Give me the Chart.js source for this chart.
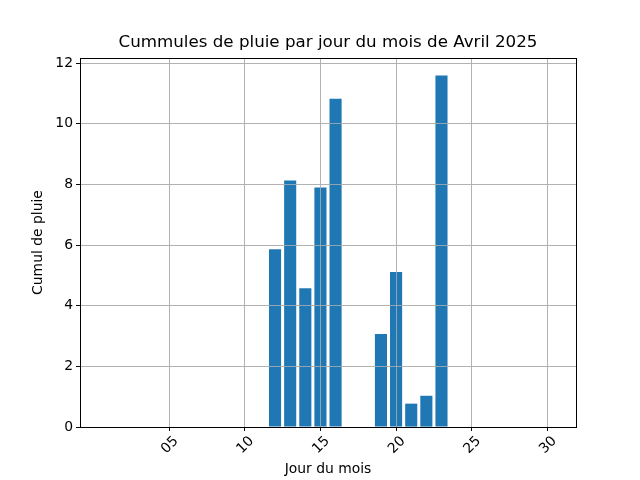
<!DOCTYPE html>
<html>
<head>
<meta charset="utf-8">
<script src="https://cdn.jsdelivr.net/npm/chart.js@4"></script>
<style>
  body { margin: 0; background: white; }
  #pluie { display: block; }
</style>
</head>
<body>
<canvas id="pluie" width="640" height="480"></canvas>
<script>
const jours = [1, 2, 3, 4, 5, 6, 7, 8, 9, 10, 11, 12, 13, 14, 15,
               16, 17, 18, 19, 20, 21, 22, 23, 24, 25, 26, 27, 28, 29, 30]
const cumuls = [0, 0, 0, 0, 0, 0, 0, 0, 0, 0, 0, 5.86, 8.13, 4.58, 7.90,
                10.83, 0, 0, 3.07, 5.11, 0.77, 1.03, 11.59, 0, 0, 0, 0, 0, 0, 0]
const xTicks = [5, 10, 15, 20, 25, 30]
const xLabels = ['05', '10', '15', '20', '25', '30']
const titre = 'Cummules de pluie par jour du mois de Avril 2025'

const police = "'DejaVu Sans', sans-serif"

// grille par-dessus les barres, cadre noir et titre centré sur les axes
const cadre = {
    id: 'cadre',
    afterDatasetsDraw(chart) {
        chart.scales.x.drawGrid(chart.chartArea)
        chart.scales.y.drawGrid(chart.chartArea)
    },
    afterDraw(chart) {
        const a = chart.chartArea
        const ctx = chart.ctx
        ctx.save()
        ctx.strokeStyle = 'black'
        ctx.lineWidth = 1
        ctx.strokeRect(Math.round(a.left) + 0.5, Math.round(a.top) + 0.5,
                       Math.round(a.right - a.left), Math.round(a.bottom - a.top))
        ctx.fillStyle = 'black'
        ctx.font = '16.7px ' + police
        ctx.textAlign = 'center'
        ctx.textBaseline = 'middle'
        ctx.fillText(titre, (a.left + a.right) / 2, 43)
        ctx.restore()
    }
}

const points = jours.map((j, i) => ({ x: j, y: cumuls[i] }))

new Chart(document.getElementById('pluie'), {
    type: 'bar',
    data: {
        datasets: [{
            data: points,
            backgroundColor: '#1f77b4',
            borderWidth: 0,
            categoryPercentage: 0.8,
            barPercentage: 1
        }]
    },
    options: {
        responsive: false,
        animation: false,
        devicePixelRatio: 1,
        layout: { padding: { left: 0, right: 64, top: 58, bottom: 0 } },
        plugins: {
            legend: { display: false },
            tooltip: { enabled: false },
            title: { display: false }
        },
        scales: {
            x: {
                type: 'linear',
                offset: false,
                min: -0.89,
                max: 31.89,
                afterBuildTicks(scale) {
                    scale.ticks = xTicks.map(v => ({ value: v }))
                },
                afterFit(scale) { scale.height = 53 },
                ticks: {
                    autoSkip: false,
                    minRotation: 45,
                    maxRotation: 45,
                    labelOffset: 7,
                    color: 'black',
                    padding: 2,
                    font: { family: police, size: 13.9 },
                    callback: (v) => xLabels[xTicks.indexOf(v)]
                },
                grid: {
                    offset: false,
                    color: '#b0b0b0',
                    lineWidth: 0.8,
                    tickColor: 'black',
                    tickLength: 4
                },
                border: { display: false },
                title: {
                    display: true,
                    text: 'Jour du mois',
                    color: 'black',
                    font: { family: police, size: 13.9 },
                    padding: { top: 0, bottom: 2 }
                }
            },
            y: {
                min: 0,
                max: 12.17,
                afterFit(scale) { scale.width = 80 },
                ticks: {
                    stepSize: 2,
                    includeBounds: false,
                    color: 'black',
                    padding: 3,
                    font: { family: police, size: 13.9 }
                },
                grid: {
                    color: '#b0b0b0',
                    lineWidth: 0.8,
                    tickColor: 'black',
                    tickLength: 4
                },
                border: { display: false },
                title: {
                    display: true,
                    text: 'Cumul de pluie',
                    color: 'black',
                    font: { family: police, size: 13.9 },
                    padding: { top: 30, bottom: 0 }
                }
            }
        }
    },
    plugins: [cadre]
})
</script>
</body>
</html>
